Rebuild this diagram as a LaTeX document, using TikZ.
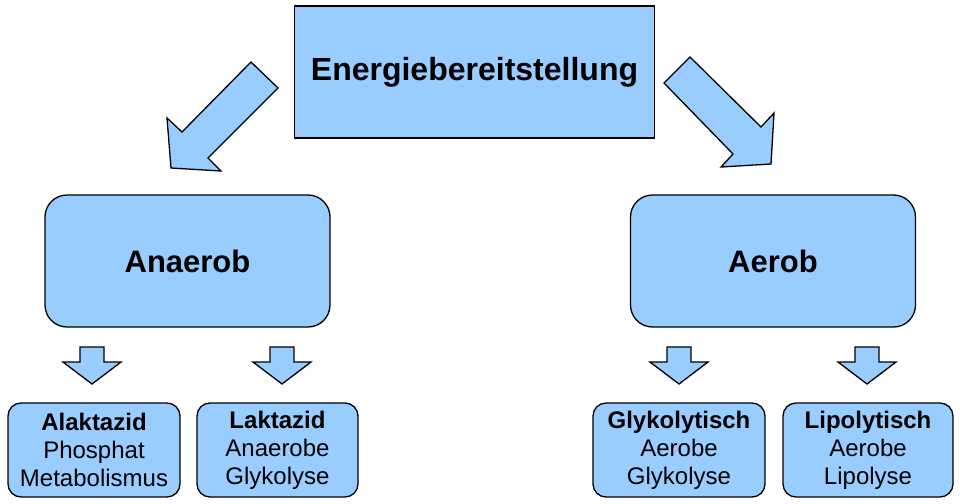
\documentclass[tikz,border=0pt]{standalone}
\usepackage{fontspec}
\setmainfont{Liberation Sans}
\definecolor{boxblue}{HTML}{99CCFF}
\tikzset{
  mainbox/.style={draw=black, fill=boxblue, line width=1.3pt, inner sep=0pt, align=center},
  topbox/.style={mainbox, minimum width=360pt, minimum height=132pt, font=\fontsize{32}{38}\selectfont\bfseries},
  midbox/.style={mainbox, rounded corners=22pt, minimum width=285pt, minimum height=132pt, font=\fontsize{31}{36}\selectfont\bfseries},
  smallbox/.style={mainbox, rounded corners=13pt, minimum height=94pt, font=\fontsize{24}{28}\selectfont},
  blockarrow/.style={draw=black, fill=boxblue, line width=1.3pt, line join=miter}
}
\begin{document}
\begin{tikzpicture}[x=1pt,y=-1pt]
\useasboundingbox (0,0) rectangle (960,503);
\fill[white] (0,0) rectangle (960,503);

\node[topbox] (energie) at (474.5,72) {Energiebereitstellung};
\node[midbox] (anaerob) at (187.5,261) {Anaerob};
\node[midbox] (aerob) at (773,261) {Aerob};

\node[smallbox, minimum width=172pt] (alaktazid) at (94,450) {\textbf{Alaktazid}\\Phosphat\\Metabolismus};
\node[smallbox, minimum width=161pt] (laktazid) at (277.5,450) {\textbf{Laktazid}\\Anaerobe\\Glykolyse};
\node[smallbox, minimum width=172pt] (glyko) at (679,450) {\textbf{Glykolytisch}\\Aerobe\\Glykolyse};
\node[smallbox, minimum width=170pt] (lipo) at (868,450) {\textbf{Lipolytisch}\\Aerobe\\Lipolyse};

% big block arrows
\draw[blockarrow] (251,62) -- (278,88) -- (208,158) -- (221,171) -- (171,168) -- (167,118) -- (182,132) -- cycle;
\draw[blockarrow] (690,57) -- (761,127) -- (774,113) -- (771,164) -- (721,167) -- (733,154) -- (664,83) -- cycle;

% small block arrows
\foreach \x in {92,282,679,867}{
  \draw[blockarrow] (\x-12,347) -- (\x+12,347) -- (\x+12,362) -- (\x+29,362) -- (\x,384) -- (\x-29,362) -- (\x-12,362) -- cycle;
}
\end{tikzpicture}
\end{document}
